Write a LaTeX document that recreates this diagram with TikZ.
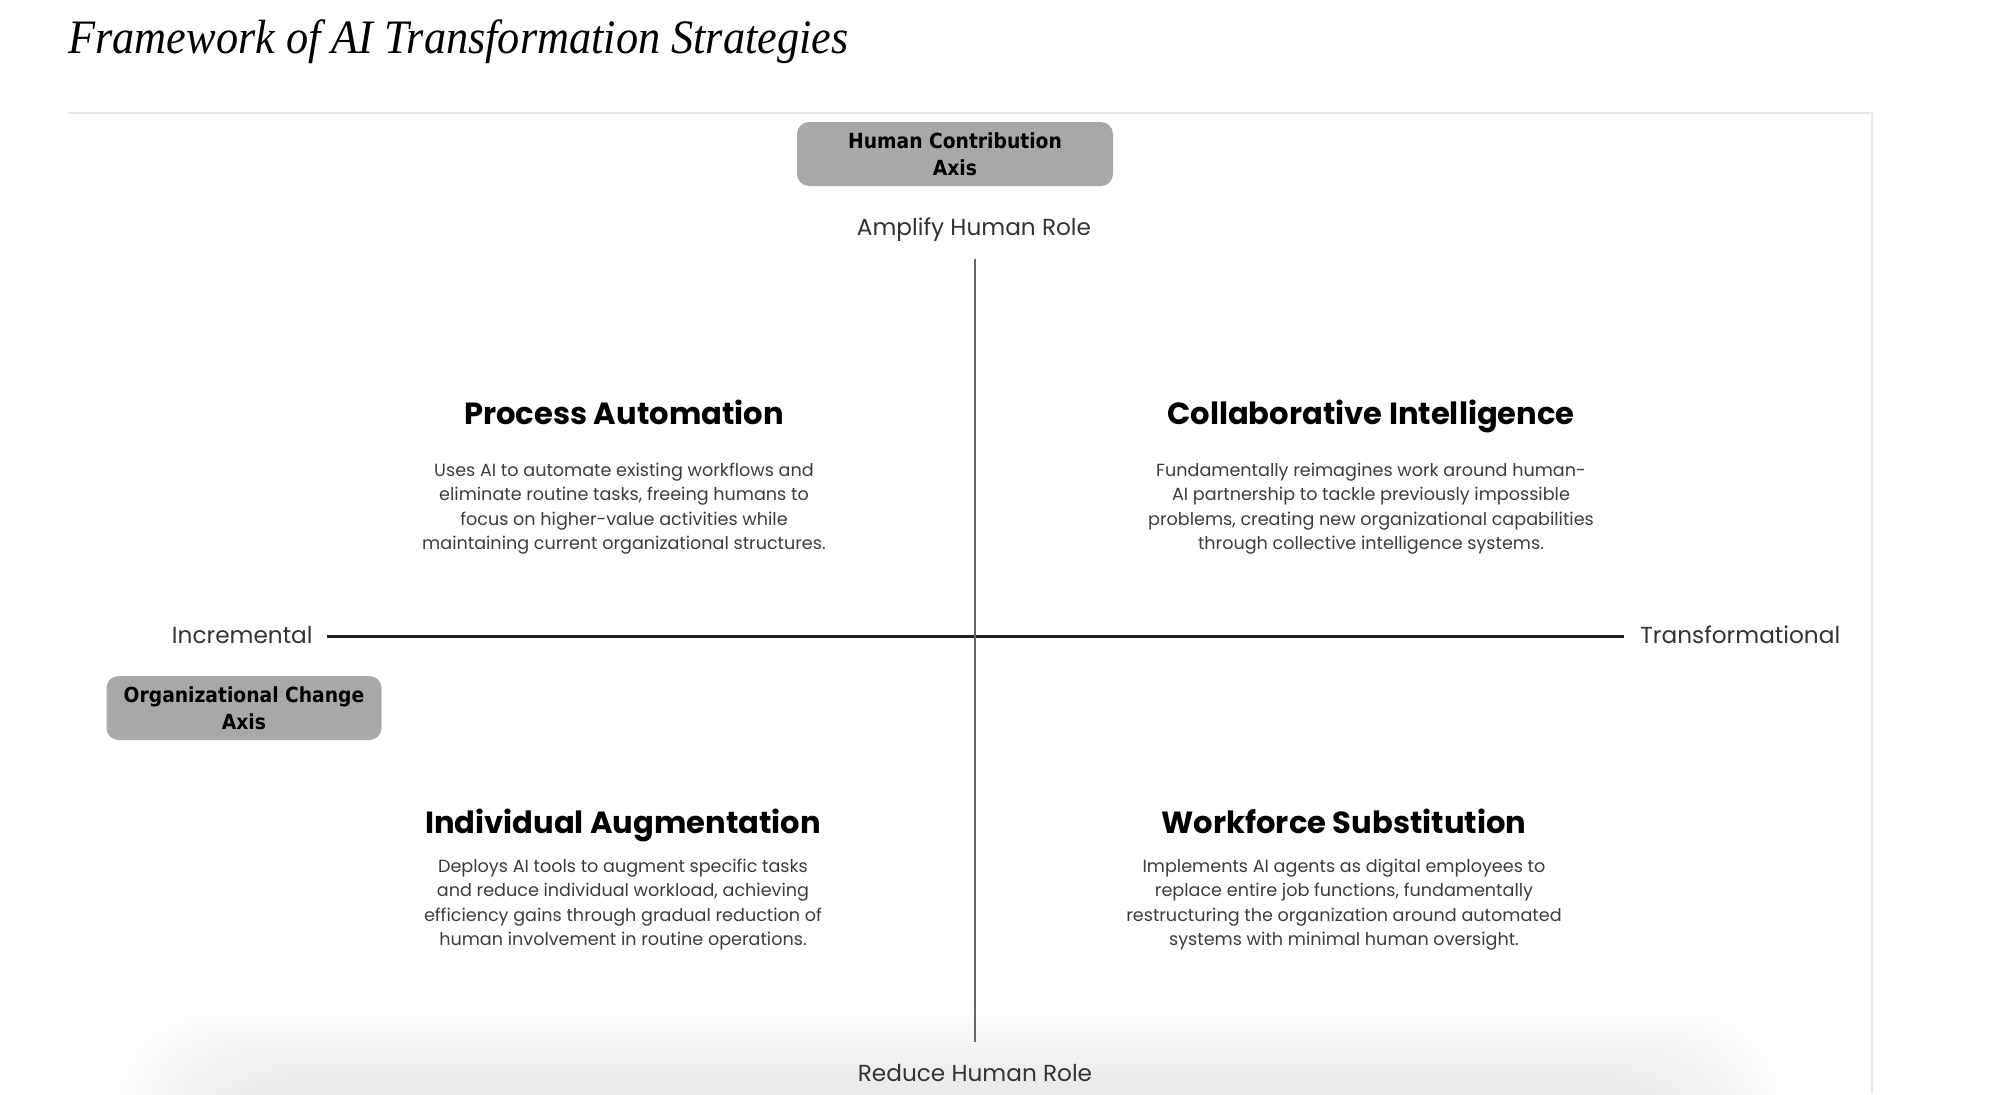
\documentclass[tikz,border=0pt]{standalone}
\usepackage{fontspec}
\usepackage{graphicx}
\setmainfont{Poppins}
\newfontfamily\titlefont{Liberation Serif}
\newfontfamily\boxfont{DejaVu Sans Condensed}
\usetikzlibrary{calc}

\definecolor{framegray}{HTML}{E6E6EC}
\definecolor{boxgray}{HTML}{A8A8A8}
\definecolor{bodygray}{HTML}{3C3C3C}
\definecolor{labelgray}{HTML}{333333}
\definecolor{axisgray}{HTML}{666666}
\definecolor{axisdark}{HTML}{1E1E1E}

\begin{document}
\begin{tikzpicture}[x=0.5pt,y=-0.5pt,
	quadhead/.style={anchor=base, inner sep=0pt, text=black,
		font=\fontsize{15.3}{18}\selectfont\bfseries},
	quadline/.style={anchor=base, inner sep=0pt, text=bodygray,
		font=\fontsize{8.8}{10}\selectfont},
	axislabel/.style={inner sep=0pt, text=labelgray,
		font=\fontsize{11.6}{14}\selectfont},
	axisbox/.style={fill=boxgray, rounded corners=6pt, align=center,
		minimum height=32pt, inner sep=0pt, text=black,
		font=\boxfont\fontsize{10.4}{13.5}\selectfont\bfseries}]
	
	% ---- (A) parameters (pixel grid of the page) ----
	\def\W{2004}
	\def\H{1094}
	\def\cx{975}    % vertical axis
	\def\cy{636}    % horizontal axis
	\def\vtop{259}
	\def\vbot{1042}
	\def\hleft{327}
	\def\hright{1624}
	
	% quadrant centres and line distance of the body text
	\def\qax{624}   % upper left
	\def\qbx{1371}  % upper right
	\def\qcx{623}   % lower left
	\def\qdx{1344}  % lower right
	\def\dl{24.5}
	
	\useasboundingbox (0,0) rectangle (\W,\H);
	
	% ---- (B) soft shadow at the bottom and frame ----
	\begin{scope}
		\clip (0,0) rectangle (\W,\H);
		\foreach \k in {0,...,19}{
			\fill[black, opacity=0.0035, rounded corners=50pt]
			({110+5*\k},{1005+4*\k}) rectangle ({1790-5*\k},{\H+150});
		}
	\end{scope}
	\draw[framegray, line width=1pt] (68,113) -- (1872,113) -- (1872,\H);
	
	% ---- (C) title ----
	\node[anchor=base west, inner sep=0pt,
	font=\titlefont\itshape\fontsize{24}{28}\selectfont] (title) at (68,53)
	{\scalebox{0.923}[1]{Framework of AI Transformation Strategies}};
	
	% ---- (D) axis boxes and labels ----
	\node[axisbox, minimum width=158pt] (hcbox) at (955,154) {Human Contribution\\Axis};
	\node[axisbox, minimum width=137.5pt] (ocbox) at (244,708) {Organizational Change\\Axis};
	
	\node[axislabel, anchor=base] (amplify) at (974,235) {Amplify Human Role};
	\node[axislabel, anchor=base] (reduce) at (975,1081) {Reduce Human Role};
	\node[axislabel, anchor=base east] (incr) at (313,643) {Incremental};
	\node[axislabel, anchor=base west] (trans) at (1640,643) {Transformational};
	
	% ---- (E) axes ----
	\coordinate (vtop) at (\cx,\vtop);
	\coordinate (vbot) at (\cx,\vbot);
	\coordinate (hleft) at (\hleft,\cy);
	\coordinate (hright) at (\hright,\cy);
	\draw[axisdark, line width=1.5pt] (hleft) -- (hright);
	\draw[axisgray, line width=1.2pt] (vtop) -- (vbot);
	
	% ---- (F) quadrants ----
	% upper left
	\node[quadhead] (pahead) at (\qax,424) {Process Automation};
	\foreach \ln [count=\i from 0] in {{Uses AI to automate existing workflows and},
		{eliminate routine tasks, freeing humans to},
		{focus on higher-value activities while},
		{maintaining current organizational structures.}}{
		\node[quadline] (pa\i) at (\qax,{476+\i*\dl}) {\ln};
	}
	
	% upper right
	\node[quadhead] (cihead) at (\qbx,424) {Collaborative Intelligence};
	\foreach \ln [count=\i from 0] in {{Fundamentally reimagines work around human-},
		{AI partnership to tackle previously impossible},
		{problems, creating new organizational capabilities},
		{through collective intelligence systems.}}{
		\node[quadline] (ci\i) at (\qbx,{476+\i*\dl}) {\ln};
	}
	
	% lower left
	\node[quadhead] (iahead) at (\qcx,833) {Individual Augmentation};
	\foreach \ln [count=\i from 0] in {{Deploys AI tools to augment specific tasks},
		{and reduce individual workload, achieving},
		{efficiency gains through gradual reduction of},
		{human involvement in routine operations.}}{
		\node[quadline] (ia\i) at (\qcx,{872+\i*\dl}) {\ln};
	}
	
	% lower right
	\node[quadhead] (wshead) at (\qdx,833) {Workforce Substitution};
	\foreach \ln [count=\i from 0] in {{Implements AI agents as digital employees to},
		{replace entire job functions, fundamentally},
		{restructuring the organization around automated},
		{systems with minimal human oversight.}}{
		\node[quadline] (ws\i) at (\qdx,{872+\i*\dl}) {\ln};
	}
	
\end{tikzpicture}
\end{document}
